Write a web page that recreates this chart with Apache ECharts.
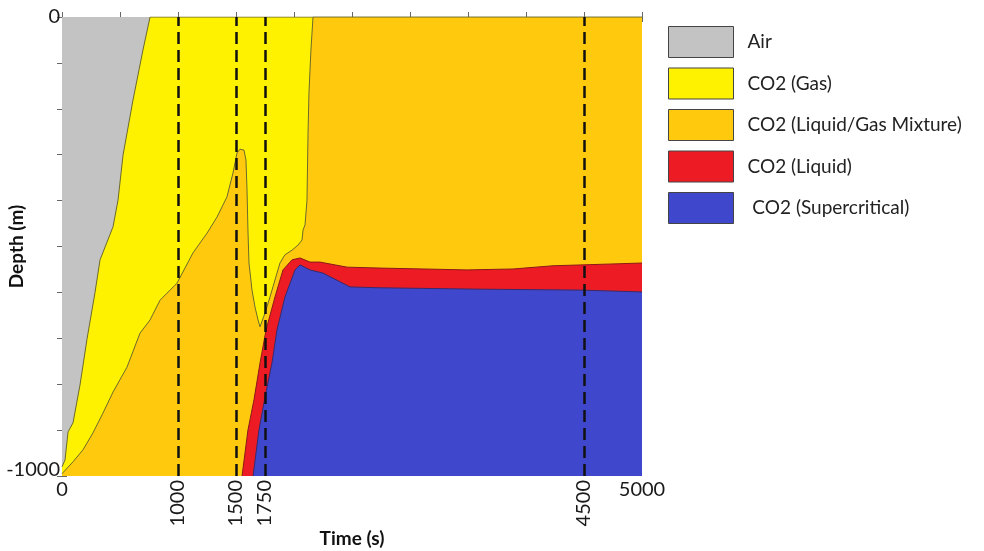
<!DOCTYPE html>
<html>
<head>
<meta charset="utf-8">
<script src="https://cdn.jsdelivr.net/npm/echarts@6/dist/echarts.min.js"></script>
<style>
  html, body { margin: 0; padding: 0; background: #fff; }
  #chart { width: 984px; height: 551px; }
</style>
</head>
<body>
<div id="chart"></div>
<script>
// phase names, top to bottom
var phaseNames = ['Air', 'CO2 (Gas)', 'CO2 (Liquid/Gas Mixture)', 'CO2 (Liquid)', ' CO2 (Supercritical)'];
var phaseColors = ['#c3c3c3', '#fff200', '#ffc90e', '#ed1c24', '#3f48cc'];

// upper boundary of each phase, [time (s), depth (m)]
var airTop = [[0, 0], [5000, 0]];
var gasTop = [
    [0, -980], [26, -965], [52, -904], [95, -884], [155, -802], [216, -701],
    [284, -601], [328, -529], [440, -457], [483, -399], [526, -301],
    [612, -181], [698, -72], [759, 0], [5000, 0]
];
var mixTop = [
    [0, -995], [95, -969], [181, -943], [267, -906], [353, -863], [440, -817],
    [560, -763], [672, -689], [759, -660], [845, -617], [991, -580],
    [1129, -514], [1250, -471], [1336, -436], [1422, -392], [1474, -340],
    [1509, -296], [1534, -288], [1569, -290], [1586, -312], [1595, -377],
    [1603, -464], [1612, -536], [1638, -595], [1664, -632], [1690, -660],
    [1707, -675], [1724, -671], [1750, -645], [1793, -610], [1836, -573],
    [1879, -536], [1922, -518], [1983, -508], [2034, -497], [2069, -486],
    [2078, -464], [2095, -453], [2112, -399], [2121, -253], [2129, -166],
    [2146, -72], [2164, 0], [5000, 0]
];
var liquidTop = [
    [1552, -1000], [1603, -900], [1655, -834], [1707, -754], [1759, -682],
    [1836, -610], [1905, -551], [1983, -529], [2052, -525], [2138, -534],
    [2224, -534], [2457, -545], [2741, -547], [3491, -551], [3888, -549],
    [4233, -542], [4750, -538], [5000, -536]
];
var superTop = [
    [1647, -1000], [1698, -900], [1750, -828], [1810, -754], [1853, -682],
    [1922, -610], [2009, -551], [2052, -540], [2138, -551], [2250, -558],
    [2483, -588], [2741, -590], [3603, -593], [4466, -595], [5000, -599]
];
var phaseTops = [airTop, gasTop, mixTop, liquidTop, superTop];

// marked times and tick labels
var dashTimes = [1000, 1500, 1750, 4500];
var xEndLabels = [0, 5000];
var yLabels = [0, -1000];

var font = 'Lato';
var edgeColors = ['#c3c3c3', '#6b6a2c', '#6b6a2c', '#8a1a1a', '#3a2a6a'];

var series = [];
for (var i = 0; i < phaseNames.length; i++) {
    series.push({
        name: phaseNames[i],
        type: 'line',
        data: phaseTops[i],
        symbol: 'none',
        showSymbol: false,
        smooth: false,
        silent: true,
        color: phaseColors[i],
        lineStyle: { color: edgeColors[i], width: i === 0 ? 0 : 1 },
        areaStyle: { color: phaseColors[i], opacity: 1, origin: 'start' },
        z: 2 + i
    });
}
// dashed time markers on top of everything
series.push({
    name: 'markers',
    type: 'line',
    data: [],
    silent: true,
    z: 20,
    markLine: {
        silent: true,
        z: 20,
        symbol: 'none',
        animation: false,
        label: { show: false },
        lineStyle: { color: '#111', type: [12, 6], width: 2.5 },
        data: dashTimes.map(function (t) { return { xAxis: t }; })
    }
});

var chart = echarts.init(document.getElementById('chart'));
chart.setOption({
    animation: false,
    backgroundColor: '#fff',
    grid: { left: 62, right: 342, top: 17, bottom: 75, containLabel: false, outerBoundsMode: 'none' },
    legend: {
        orient: 'vertical',
        left: 663,
        top: 21,
        icon: 'rect',
        itemWidth: 65,
        itemHeight: 31,
        itemGap: 9.5,
        selectedMode: false,
        textStyle: { fontFamily: font, fontSize: 19, color: '#222', padding: [0, 0, 0, 9] },
        data: phaseNames.map(function (n, i) {
            return { name: n, itemStyle: { color: phaseColors[i], borderColor: '#444', borderWidth: 1 } };
        })
    },
    xAxis: [
        {
            type: 'value', position: 'bottom', min: 0, max: 5000, interval: 500,
            name: 'Time (s)', nameLocation: 'middle', nameGap: 53, nameMoveOverlap: false,
            nameTextStyle: { fontFamily: font, fontSize: 19, fontWeight: 'bold', color: '#111' },
            axisLine: { show: true, lineStyle: { color: '#999' } },
            axisTick: { show: true, inside: true, length: 5, lineStyle: { color: '#666' } },
            axisLabel: {
                margin: 4, fontFamily: font, fontSize: 20, color: '#1a1a1a',
                formatter: function (v) { return xEndLabels.indexOf(v) >= 0 ? String(v) : ''; }
            },
            splitLine: { show: false }
        },
        {
            type: 'value', position: 'bottom', min: 0, max: 5000, interval: 250,
            axisLine: { show: false },
            axisTick: { show: false },
            axisLabel: {
                rotate: 90, margin: 4, fontFamily: font, fontSize: 20, color: '#1a1a1a',
                formatter: function (v) { return dashTimes.indexOf(v) >= 0 ? String(v) : ''; }
            },
            splitLine: { show: false }
        },
        {
            type: 'value', position: 'top', min: 0, max: 5000, interval: 500,
            axisLine: { show: true, lineStyle: { color: '#999' } },
            axisTick: { show: true, inside: true, length: 5, lineStyle: { color: '#666' } },
            axisLabel: { show: false },
            splitLine: { show: false }
        }
    ],
    yAxis: [
        {
            type: 'value', position: 'left', min: -1000, max: 0, interval: 100,
            name: 'Depth (m)', nameLocation: 'middle', nameGap: 36, nameMoveOverlap: false,
            nameRotate: 90,
            nameTextStyle: { fontFamily: font, fontSize: 19, fontWeight: 'bold', color: '#111' },
            axisLine: { show: true, lineStyle: { color: '#999' } },
            axisTick: { show: true, inside: true, length: 5, lineStyle: { color: '#666' } },
            axisLabel: {
                margin: 2, fontFamily: font, fontSize: 20, color: '#1a1a1a',
                formatter: function (v) {
                    if (v === -1000) return '{lo|-1000}';
                    return yLabels.indexOf(v) >= 0 ? String(v) : '';
                },
                rich: { lo: { fontFamily: font, fontSize: 20, color: '#1a1a1a', padding: [0, 0, 12, 0] } }
            },
            splitLine: { show: false }
        },
        {
            type: 'value', position: 'right', min: -1000, max: 0, interval: 100,
            axisLine: { show: true, lineStyle: { color: '#999' } },
            axisTick: { show: true, inside: true, length: 5, lineStyle: { color: '#666' } },
            axisLabel: { show: false },
            splitLine: { show: false }
        }
    ],
    series: series
});
</script>
</body>
</html>
